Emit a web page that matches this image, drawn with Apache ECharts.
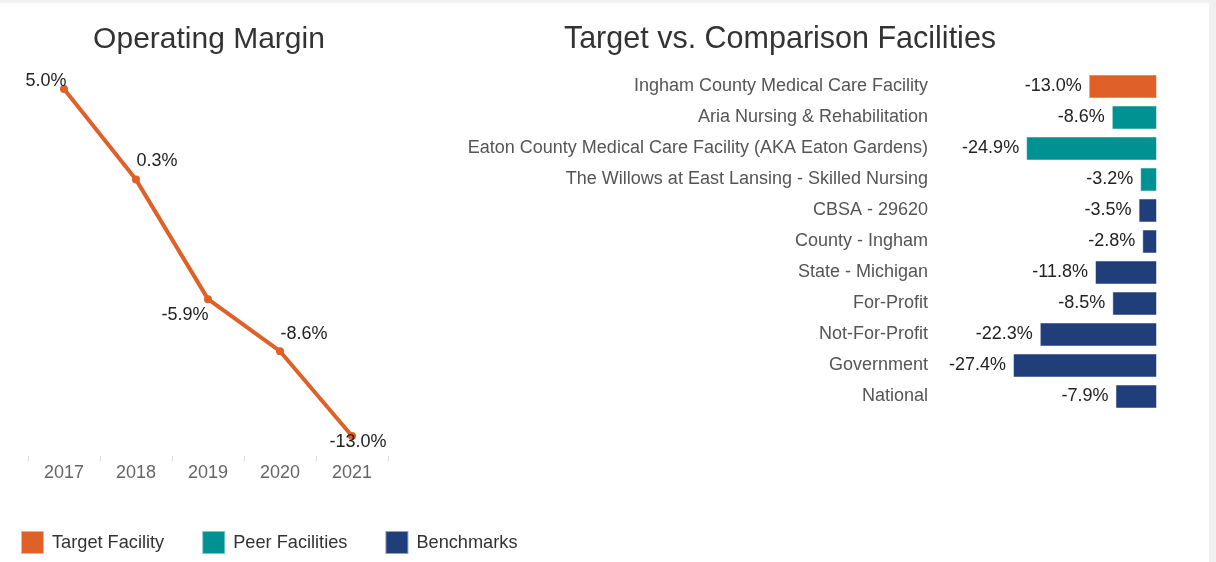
<!DOCTYPE html>
<html>
<head>
<meta charset="utf-8">
<script src="https://cdn.jsdelivr.net/npm/echarts@6/dist/echarts.min.js"></script>
<style>
  html, body { margin: 0; padding: 0; background: #f0f0f0; }
  #card { position: absolute; left: 0; top: 3px; width: 1209px; height: 559px; background: #fff; }
  #chart { position: absolute; left: 0; top: 0; width: 1216px; height: 562px; }
</style>
</head>
<body>
<div id="card"></div>
<div id="chart"></div>
<script>
// operating margin trend
const years = ['2017', '2018', '2019', '2020', '2021']
const margins = [5.0, 0.3, -5.9, -8.6, -13.0]

// comparison facilities
const facilities = [
  'Ingham County Medical Care Facility',
  'Aria Nursing & Rehabilitation',
  'Eaton County Medical Care Facility (AKA Eaton Gardens)',
  'The Willows at East Lansing - Skilled Nursing',
  'CBSA - 29620',
  'County - Ingham',
  'State - Michigan',
  'For-Profit',
  'Not-For-Profit',
  'Government',
  'National'
]
const facilityValues = [-13.0, -8.6, -24.9, -3.2, -3.5, -2.8, -11.8, -8.5, -22.3, -27.4, -7.9]
const facilityGroups = ['Target Facility', 'Peer Facilities', 'Peer Facilities', 'Peer Facilities',
  'Benchmarks', 'Benchmarks', 'Benchmarks', 'Benchmarks', 'Benchmarks', 'Benchmarks', 'Benchmarks']
const groupNames = ['Target Facility', 'Peer Facilities', 'Benchmarks']

const colors = {
  'Target Facility': '#df6128',
  'Peer Facilities': '#009193',
  'Benchmarks': '#1f3e7a'
}

// where each line label sits relative to its point
const lineLabelOffsets = [[-18, -8], [21, -19], [-23, 16], [24, -17], [6, 6]]

const chart = echarts.init(document.getElementById('chart'))

const barSeries = groupNames.map(g => ({
  name: g,
  type: 'bar',
  stack: 'all',
  xAxisIndex: 1,
  yAxisIndex: 1,
  barWidth: 24,
  itemStyle: { color: colors[g], borderColor: 'rgba(255,255,255,0.5)', borderWidth: 1 },
  label: {
    show: true,
    position: 'left',
    distance: 7,
    fontSize: 18,
    color: '#222',
    fontFamily: 'Liberation Sans',
    formatter: p => p.value.toFixed(1) + '%'
  },
  data: facilityValues.map((v, i) => facilityGroups[i] === g ? v : '-')
}))

const option = {
  animation: false,
  textStyle: { fontFamily: 'Liberation Sans' },
  title: [
    {
      text: 'Operating Margin',
      left: 204, top: 20, textAlign: 'center',
      textStyle: { fontSize: 30, fontWeight: 'normal', color: '#333' }
    },
    {
      text: 'Target vs. Comparison Facilities',
      left: 775, top: 19, textAlign: 'center',
      textStyle: { fontSize: 30.5, fontWeight: 'normal', color: '#333' }
    }
  ],
  legend: {
    data: groupNames,
    left: 15,
    top: 525,
    itemWidth: 23,
    itemHeight: 23,
    itemGap: 37,
    icon: 'rect',
    textStyle: { fontSize: 18.2, color: '#333', padding: [0, 0, 0, 3] }
  },
  grid: [
    { left: 28, right: 828, top: 89, bottom: 126 },
    { left: 1013, right: 59, top: 71, bottom: 150 }
  ],
  xAxis: [
    {
      type: 'category',
      gridIndex: 0,
      data: years,
      offset: 20,
      axisLine: { show: false, onZero: false },
      axisTick: { show: true, length: 5, lineStyle: { color: '#ddd' } },
      axisLabel: { fontSize: 18, color: '#666', margin: 8 }
    },
    {
      type: 'value',
      gridIndex: 1,
      min: -27.4,
      max: 0,
      show: false
    }
  ],
  yAxis: [
    {
      type: 'value',
      gridIndex: 0,
      min: -13,
      max: 5,
      show: false
    },
    {
      type: 'category',
      gridIndex: 1,
      data: facilities,
      inverse: true,
      axisLine: { show: false },
      axisTick: { show: false },
      axisLabel: { fontSize: 18, color: '#555', margin: 85 }
    }
  ],
  series: [
    {
      name: 'Operating Margin',
      type: 'line',
      xAxisIndex: 0,
      yAxisIndex: 0,
      symbol: 'circle',
      symbolSize: 8,
      lineStyle: { width: 4, color: colors['Target Facility'] },
      itemStyle: { color: colors['Target Facility'] },
      data: margins.map((v, i) => ({
        value: v,
        label: {
          show: true,
          position: 'inside',
          offset: lineLabelOffsets[i],
          fontSize: 18,
          color: '#222',
          formatter: p => p.value.toFixed(1) + '%'
        }
      }))
    },
    ...barSeries
  ]
}

chart.setOption(option)
</script>
</body>
</html>
